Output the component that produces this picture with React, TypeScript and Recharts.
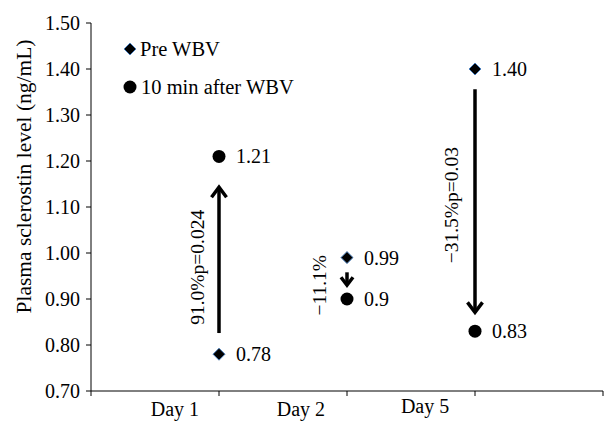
import React from "react";
import {
  ScatterChart,
  Scatter,
  XAxis,
  YAxis,
  ReferenceLine,
  ReferenceDot,
  Legend,
} from "recharts";

const days = ["Day 1", "Day 2", "Day 5"];
const preWbv = [0.78, 0.99, 1.4];
const postWbv = [1.21, 0.9, 0.83];
const preLabels = ["0.78", "0.99", "1.40"];
const postLabels = ["1.21", "0.9", "0.83"];
const yTicks = [0.7, 0.8, 0.9, 1.0, 1.1, 1.2, 1.3, 1.4, 1.5];
const xTicks = [0, 1, 2, 3, 4];
const dayLabelPos = [0.656, 1.64, 2.61];

// arrow start / tip values and the change text next to each arrow
const arrowFrom = [0.826, 0.958, 1.356];
const arrowTo = [1.143, 0.93, 0.871];
const changeText = ["91.0%p=0.024", "\u221211.1%", "\u221231.5%p=0.03"];
const changeTextY = [0.969, 0.93, 1.104];

const FONT = "'Liberation Serif', 'Times New Roman', serif";
const FS = 20;

const preData = days.map((d, i) => ({ x: i + 1, y: preWbv[i], label: preLabels[i] }));
const postData = days.map((d, i) => ({ x: i + 1, y: postWbv[i], label: postLabels[i] }));

const textOffsets = [-22, -28, -24];

const Diamond = (props: any) => {
  const { cx, cy, payload } = props;
  const s = 6;
  return (
    <g>
      <polygon
        points={`${cx},${cy - s} ${cx + s},${cy} ${cx},${cy + s} ${cx - s},${cy}`}
        fill="#000"
        stroke="#4a7ebb"
        strokeWidth={1}
      />
      <text x={cx + 17} y={cy + 7} fontFamily={FONT} fontSize={FS} fill="#000">
        {payload.label}
      </text>
    </g>
  );
};

const Dot = (props: any) => {
  const { cx, cy, payload } = props;
  return (
    <g>
      <circle cx={cx} cy={cy} r={6.5} fill="#000" />
      <text x={cx + 17} y={cy + 7} fontFamily={FONT} fontSize={FS} fill="#000">
        {payload.label}
      </text>
    </g>
  );
};

const Arrow = (props: any) => {
  const { x1, y1, x2, y2 } = props;
  const dir = y2 > y1 ? 1 : -1;
  const small = Math.abs(y2 - y1) < 30;
  const head = small ? 8 : 10;
  const half = small ? 6 : 7.5;
  return (
    <g>
      <line x1={x1} y1={y1} x2={x2} y2={y2 - dir * 2} stroke="#000" strokeWidth={3.5} />
      <polyline
        points={`${x2 - half},${y2 - dir * head} ${x2},${y2} ${x2 + half},${y2 - dir * head}`}
        fill="none"
        stroke="#000"
        strokeWidth={3.5}
      />
    </g>
  );
};

const makeChangeLabel = (i: number) => (props: any) => {
  const { cx, cy } = props;
  return (
    <text
      transform={`translate(${cx + textOffsets[i]},${cy}) rotate(-90)`}
      x={0}
      y={6.5}
      textAnchor="middle"
      fontFamily={FONT}
      fontSize={19.5}
      fill="#000"
    >
      {changeText[i]}
    </text>
  );
};

const YLabel = (props: any) => {
  const { viewBox } = props;
  const x = (viewBox?.x ?? 0) + 24;
  return (
    <text
      transform={`translate(${x},176.5) rotate(-90)`}
      x={0}
      y={7}
      textAnchor="middle"
      fontFamily={FONT}
      fontSize={21.5}
      fill="#000"
    >
      Plasma sclerostin level (ng/mL)
    </text>
  );
};

const DayTick = (props: any) => {
  const { x, y, index, width } = props;
  if (index > 2) return <g />;
  const unit = (typeof width === "number" && width > 0 ? width : 512) / 4;
  const lx = x + (dayLabelPos[index] - index) * unit;
  return (
    <text
      x={lx}
      y={y + 18 - (index === 2 ? 3 : 0)}
      textAnchor="middle"
      fontFamily={FONT}
      fontSize={FS}
      fill="#000"
    >
      {days[index]}
    </text>
  );
};

const LegendBox = () => (
  <div style={{ fontFamily: FONT, fontSize: 20.5, color: "#000" }}>
    <div style={{ display: "flex", alignItems: "center", height: 38 }}>
      <svg width={14} height={14}>
        <polygon points="7,1 13,7 7,13 1,7" fill="#000" stroke="#4a7ebb" strokeWidth={1} />
      </svg>
      <span style={{ marginLeft: 3 }}>Pre WBV</span>
    </div>
    <div style={{ display: "flex", alignItems: "center", height: 38 }}>
      <svg width={14} height={14}>
        <circle cx={7} cy={7} r={6.5} fill="#000" />
      </svg>
      <span style={{ marginLeft: 4 }}>10 min after WBV</span>
    </div>
  </div>
);

export default function App() {
  return (
    <div style={{ position: "absolute", left: 0, top: 0, background: "#fff" }}>
      <ScatterChart width={604} height={421} margin={{ top: 23, right: 1, bottom: 0, left: 0 }}>
        <XAxis
          type="number"
          dataKey="x"
          domain={[0, 4]}
          ticks={xTicks}
          interval={0}
          tickSize={5}
          tickMargin={2}
          height={30}
          axisLine={{ stroke: "#000" }}
          tickLine={{ stroke: "#000" }}
          tick={<DayTick />}
        />
        <YAxis
          type="number"
          dataKey="y"
          domain={[0.7, 1.5]}
          ticks={yTicks}
          tickFormatter={(v: number) => v.toFixed(2)}
          width={91}
          tickSize={5}
          tickMargin={6}
          interval={0}
          axisLine={{ stroke: "#000" }}
          tickLine={{ stroke: "#000" }}
          tick={{ fill: "#000", fontSize: FS, fontFamily: FONT }}
          label={<YLabel />}
        />
        <Legend
          layout="vertical"
          align="center"
          verticalAlign="middle"
          wrapperStyle={{ left: 123, top: 30, width: "auto" }}
          content={<LegendBox />}
        />
        {days.map((d, i) => (
          <ReferenceLine
            key={"arrow" + i}
            segment={[
              { x: i + 1, y: arrowFrom[i] },
              { x: i + 1, y: arrowTo[i] },
            ]}
            shape={Arrow}
          />
        ))}
        {days.map((d, i) => (
          <ReferenceDot
            key={"txt" + i}
            x={i + 1}
            y={changeTextY[i]}
            r={0}
            shape={makeChangeLabel(i)}
          />
        ))}
        <Scatter name="Pre WBV" data={preData} shape={Diamond} isAnimationActive={false} />
        <Scatter name="10 min after WBV" data={postData} shape={Dot} isAnimationActive={false} />
      </ScatterChart>
    </div>
  );
}
